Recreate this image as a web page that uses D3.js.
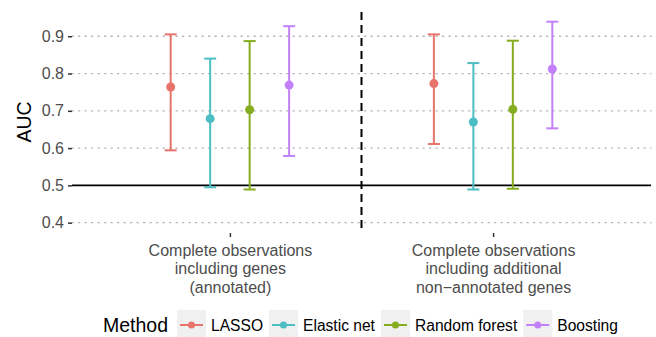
<!DOCTYPE html>
<html><head><meta charset="utf-8">
<script src="https://cdn.jsdelivr.net/npm/d3@7"></script>
<style>body{margin:0;background:#fff}svg{display:block;font-family:"Liberation Sans",Arial,Helvetica,sans-serif}</style>
</head><body>
<svg id="c" width="656" height="337"></svg>
<script>
const categories = ["Complete observations\nincluding genes\n(annotated)", "Complete observations\nincluding additional\nnon\u2212annotated genes"];
const methods = ["LASSO", "Elastic net", "Random forest", "Boosting"];
const colors = ["#E8736C", "#4DBEC3", "#86AC1F", "#C281FA"];
// per category, per method
const auc   = [[0.764, 0.679, 0.703, 0.769], [0.773, 0.670, 0.704, 0.812]];
const lower = [[0.594, 0.495, 0.489, 0.579], [0.611, 0.489, 0.491, 0.653]];
const upper = [[0.905, 0.840, 0.887, 0.927], [0.905, 0.828, 0.888, 0.939]];
const yTicks = [0.4, 0.5, 0.6, 0.7, 0.8, 0.9];
const refLine = 0.5;

const svg = d3.select("#c");
const L = 72, R = 651, T = 12, B = 232;
const x = d3.scalePoint().domain(d3.range(categories.length)).range([L, R]).padding(0.6);
const dodge = d3.scalePoint().domain(methods).range([-0.225 * x.step(), 0.225 * x.step()]);
const y = d3.scaleLinear().domain([0.375, 0.965]).range([B, T]);
const color = d3.scaleOrdinal().domain(methods).range(colors);

// grid
svg.append("g").selectAll("line").data(yTicks.filter(t => t !== refLine)).join("line")
  .attr("x1", L).attr("x2", R).attr("y1", d => y(d)).attr("y2", d => y(d))
  .attr("stroke", "#b5b5b5").attr("stroke-width", 1.3).attr("stroke-dasharray", "1.3,5.2").attr("stroke-linecap","round");

// reference line
svg.append("line").attr("x1", L).attr("x2", R).attr("y1", y(refLine)).attr("y2", y(refLine))
  .attr("stroke", "#000").attr("stroke-width", 1.6);

// dashed separator
const mid = (x(0) + x(1)) / 2;
svg.append("line").attr("x1", mid).attr("x2", mid).attr("y1", T).attr("y2", B)
  .attr("stroke", "#000").attr("stroke-width", 2).attr("stroke-dasharray", "8,5");

// y axis
const ya = svg.append("g").attr("transform", `translate(${L},0)`)
  .call(d3.axisLeft(y).tickValues(yTicks).tickFormat(d3.format(".1f")).tickSize(4).tickPadding(4));
ya.select(".domain").remove();
ya.selectAll(".tick line").attr("stroke", "#333").attr("stroke-width", 1.5);
ya.selectAll(".tick text").attr("fill", "#4d4d4d").style("font-size", "16px").style("font-family", "inherit");

// x axis
const xa = svg.append("g").attr("transform", `translate(0,${B + 1})`)
  .call(d3.axisBottom(x).tickSize(4).tickFormat(""));
xa.select(".domain").remove();
xa.selectAll(".tick line").attr("stroke", "#333").attr("stroke-width", 1.5);
xa.selectAll(".tick").append("text").attr("fill", "#4d4d4d").attr("text-anchor", "middle")
  .style("font-size", "16px")
  .each(function(d) {
    const lines = categories[d].split("\n");
    d3.select(this).selectAll("tspan").data(lines).join("tspan")
      .attr("x", 0).attr("y", (l, i) => 22.5 + i * 18.5).text(l => l);
  });

// y label
svg.append("text").attr("transform", `translate(31,${(T + B) / 2}) rotate(-90)`)
  .attr("text-anchor", "middle").style("font-size", "19.5px").attr("fill", "#000").text("AUC");

// data
const rows = [];
categories.forEach((c, ci) => methods.forEach((m, mi) => rows.push({ci, m, v: auc[ci][mi], lo: lower[ci][mi], hi: upper[ci][mi]})));
const g = svg.append("g").selectAll("g").data(rows).join("g")
  .attr("transform", d => `translate(${x(d.ci) + dodge(d.m)},0)`)
  .attr("stroke", d => color(d.m)).attr("fill", d => color(d.m));
g.append("line").attr("y1", d => y(d.lo)).attr("y2", d => y(d.hi)).attr("stroke-width", 2);
g.append("line").attr("x1", -6).attr("x2", 6).attr("y1", d => y(d.lo)).attr("y2", d => y(d.lo)).attr("stroke-width", 2);
g.append("line").attr("x1", -6).attr("x2", 6).attr("y1", d => y(d.hi)).attr("y2", d => y(d.hi)).attr("stroke-width", 2);
g.append("circle").attr("cy", d => y(d.v)).attr("r", 4.5).attr("stroke", "none");

// legend
const lg = svg.append("g");
const ly = 325;
lg.append("text").attr("x", 103).attr("y", ly + 7).style("font-size", "19.5px").attr("fill", "#000").text("Method");
let cx = 177;
methods.forEach(m => {
  lg.append("rect").attr("x", cx).attr("y", ly - 15).attr("width", 29).attr("height", 29).attr("fill", "#f0f0f0");
  lg.append("line").attr("x1", cx + 3).attr("x2", cx + 26).attr("y1", ly).attr("y2", ly).attr("stroke", color(m)).attr("stroke-width", 2);
  lg.append("circle").attr("cx", cx + 14.5).attr("cy", ly).attr("r", 3.5).attr("fill", color(m));
  const t = lg.append("text").attr("x", cx + 34).attr("y", ly + 5.5).style("font-size", "15.6px").attr("fill", "#000").text(m);
  cx = cx + 34 + t.node().getComputedTextLength() + 6;
});
</script>
</body></html>
